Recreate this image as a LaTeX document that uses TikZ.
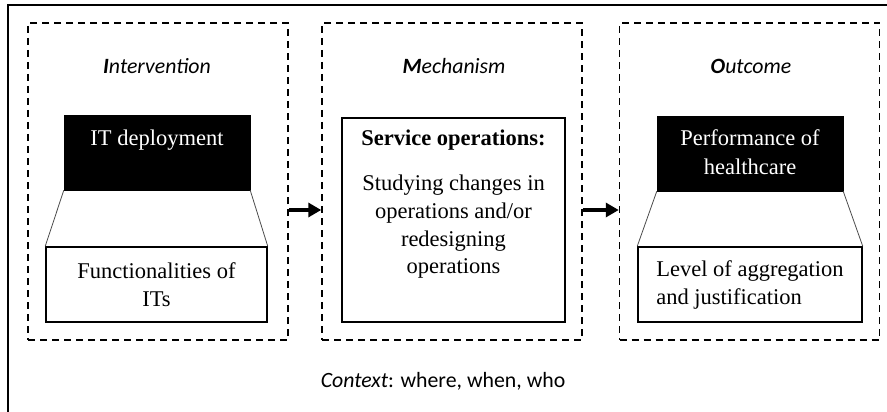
\documentclass[tikz,border=0pt]{standalone}
\usepackage{fontspec}
\setmainfont{Liberation Serif}
\newfontfamily\labelfont{Carlito}
\usetikzlibrary{arrows.meta}

\tikzset{
  frame/.style={draw=black, line width=2.2pt},
  stage/.style={draw=black, line width=1.5pt, dash pattern=on 7pt off 5pt, minimum width=260pt, minimum height=317pt, inner sep=0pt},
  stagetitle/.style={font=\labelfont\fontsize{21.8}{26}\selectfont, inner sep=0pt},
  darkbox/.style={draw=black, fill=black, minimum width=186pt, minimum height=75pt, inner sep=0pt},
  darktext/.style={text=white, font=\fontsize{22.5}{28.5}\selectfont, align=center, inner sep=0pt, anchor=north},
  lightbox/.style={draw=black, line width=1.5pt, fill=white, inner sep=0pt, font=\fontsize{22.5}{28}\selectfont},
  funnel/.style={draw=black!70, line width=0.8pt},
  fatarrow/.style={line width=4pt, -{Triangle[length=13pt,width=14pt]}}
}

\begin{document}
\begin{tikzpicture}[x=1pt,y=-1pt]
  \useasboundingbox (0,0) rectangle (887,412);
  \begin{scope}
    \clip (0,0) rectangle (887,412);
    \draw[frame] (8,5) rectangle (900,425);
  \end{scope}

  % the three stages
  \node[stage] (s1) at (158,181.5) {};
  \node[stage] (s2) at (452,181.5) {};
  \node[stage] (s3) at (749.5,181.5) {};

  \node[stagetitle] (t1) at (157,66) {\textbf{\textit{I}}\textit{ntervention}};
  \node[stagetitle] (t2) at (454,66) {\textbf{\textit{M}}\textit{echanism}};
  \node[stagetitle] (t3) at (751,66) {\textbf{\textit{O}}\textit{utcome}};

  % intervention
  \node[darkbox] (itd) at (157,152.5) {};
  \node[darktext] (itdl) at ([yshift=-15pt]itd.north) {IT deployment};
  \node[lightbox, minimum width=221pt, minimum height=75pt, align=center] (fun) at (156.5,284.5)
    {Functionalities of\\ITs};
  \draw[funnel] (itd.south west) -- (fun.north west);
  \draw[funnel] (itd.south east) -- (fun.north east);

  % mechanism
  \node[lightbox, minimum width=223pt, minimum height=204pt] (svc) at (453.5,220) {};
  \node[anchor=north, inner sep=0pt, font=\bfseries\fontsize{22.5}{27}\selectfont] (svct) at ([yshift=-12pt]svc.north) {Service operations:};
  \node[anchor=north, inner sep=0pt, align=center, font=\fontsize{22.5}{27.8}\selectfont] (svcb) at ([yshift=-57.5pt]svc.north)
    {Studying changes in\\operations and/or\\redesigning\\operations};

  % outcome
  \node[darkbox] (perf) at (750,153.5) {};
  \node[darktext] (perfl) at ([yshift=-14pt]perf.north) {Performance of\\healthcare};
  \node[lightbox, minimum width=224pt, minimum height=75pt, align=left] (lvl) at (750,284.5)
    {Level of aggregation\\and justification};
  \draw[funnel] (perf.south west) -- (lvl.north west);
  \draw[funnel] (perf.south east) -- (lvl.north east);

  % flow between stages
  \draw[fatarrow] ([yshift=-28.5pt]s1.east) -- ([yshift=-28.5pt]s2.west);
  \draw[fatarrow] ([yshift=-28.5pt]s2.east) -- ([yshift=-28.5pt]s3.west);

  % context
  \node[stagetitle] (ctx) at (443,381) {\textit{Context}: where, when, who};
\end{tikzpicture}
\end{document}
